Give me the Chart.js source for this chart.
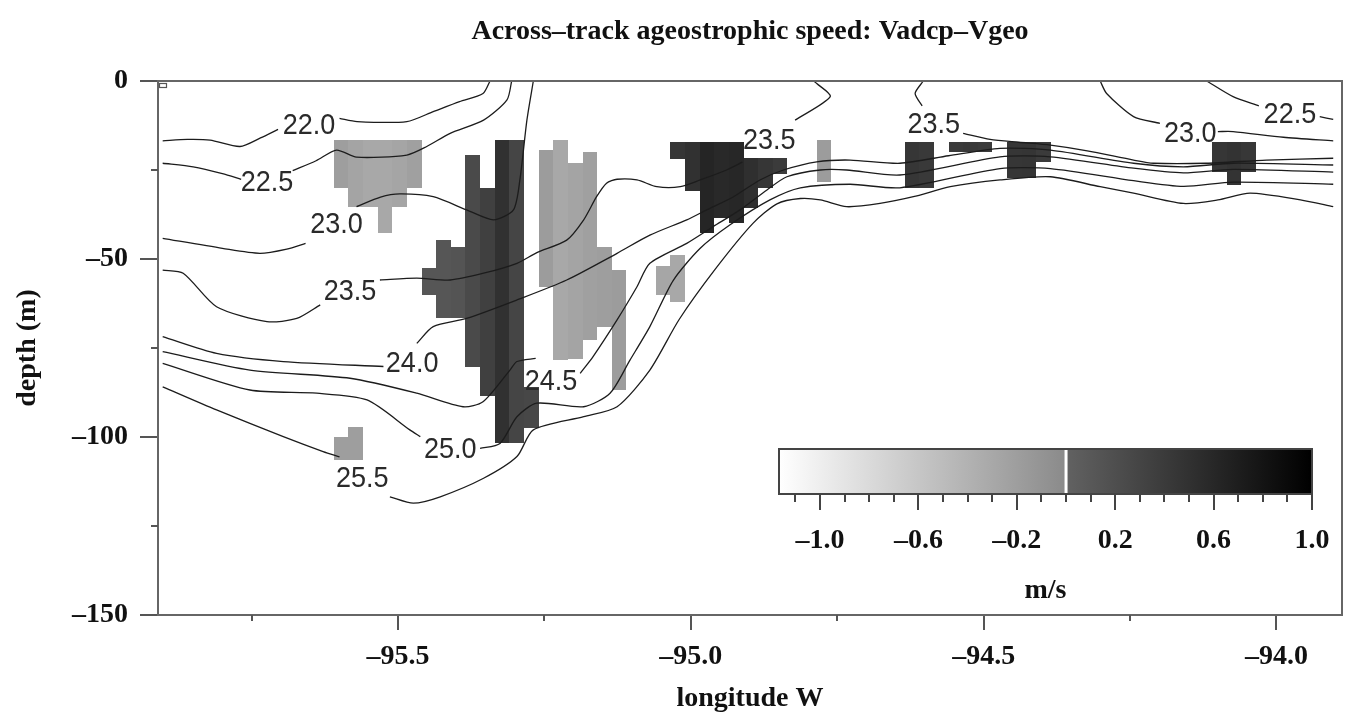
<!DOCTYPE html>
<html>
<head>
<meta charset="utf-8">
<title>Across-track ageostrophic speed</title>
<script src="https://cdn.jsdelivr.net/npm/chart.js@4.4.1/dist/chart.umd.min.js"></script>
<style>
  html, body { margin: 0; padding: 0; background: #ffffff; }
  #wrap { width: 1348px; height: 717px; }
</style>
</head>
<body>
<div id="wrap"><canvas id="chart" width="1348" height="717"></canvas></div>
<script>
// ---- axes ----
const lonMin = -95.910, lonMax = -93.888;
const depthMin = -150, depthMax = 0;
const xTickValues = [-95.5, -95.0, -94.5, -94.0];
const xMinorValues = [-95.75, -95.25, -94.75, -94.25];
const yTickValues = [0, -50, -100, -150];
const yMinorValues = [-25, -75, -125];

// ---- ageostrophic speed cells (m/s): west edge lon, top/bottom depth ----
const cellStep = 0.025;
const cellLon = [
  -95.610, -95.585, -95.560, -95.535, -95.510, -95.485,
  -95.460, -95.435, -95.410, -95.385, -95.360, -95.335, -95.310, -95.285,
  -95.260, -95.235, -95.210, -95.185, -95.160, -95.135,
  -95.060, -95.035,
  -95.035, -95.010, -94.985, -94.960, -94.935, -94.910, -94.885, -94.860,
  -94.785,
  -94.635, -94.610,
  -94.560, -94.535, -94.510,
  -94.460, -94.435, -94.410,
  -94.110, -94.085, -94.060,
  -95.610, -95.585
];
const cellTop = [
  -16.6, -16.6, -16.6, -16.6, -16.6, -16.6,
  -52.5, -44.7, -46.6, -20.8, -30.1, -16.6, -16.6, -86.0,
  -19.4, -16.6, -23.1, -20.0, -46.6, -53.0,
  -52.0, -49.0,
  -17.0, -17.0, -17.0, -17.0, -17.0, -21.6, -21.6, -21.6,
  -16.6,
  -17.0, -17.0,
  -17.0, -17.0, -17.0,
  -17.0, -17.0, -17.0,
  -17.0, -17.0, -17.0,
  -100.0, -97.2
];
const cellBottom = [
  -30.1, -35.3, -35.3, -42.8, -35.3, -30.1,
  -60.0, -66.6, -66.6, -80.2, -88.6, -101.7, -101.7, -97.5,
  -57.8, -78.4, -78.0, -72.8, -69.0, -86.8,
  -60.0, -62.0,
  -22.0, -31.0, -42.7, -38.5, -40.0, -35.7, -30.0, -26.0,
  -28.4,
  -30.1, -30.1,
  -20.0, -20.0, -20.0,
  -27.2, -27.2, -22.8,
  -25.6, -29.2, -25.6,
  -106.5, -106.5
];
const cellSpeed = [
  -0.20, -0.26, -0.30, -0.30, -0.27, -0.22,
  0.12, 0.12, 0.14, 0.24, 0.35, 0.50, 0.30, 0.28,
  -0.18, -0.30, -0.26, -0.22, -0.20, -0.18,
  -0.28, -0.30,
  0.45, 0.50, 0.62, 0.58, 0.60, 0.52, 0.45, 0.40,
  -0.18,
  0.45, 0.42,
  0.40, 0.42, 0.40,
  0.45, 0.46, 0.40,
  0.45, 0.48, 0.44,
  -0.20, -0.20
];

// ---- density (sigma-t) contours: [lon, depth], null = break ----
const contour220 = [
  [-95.902,-16.8],[-95.860,-16.4],[-95.821,-16.6],[-95.770,-18.4],[-95.735,-16.0],[-95.705,-13.6], null,
  [-95.600,-10.5],[-95.570,-11.4],[-95.485,-11.4],[-95.440,-8.6],[-95.395,-5.8],[-95.355,-3.5],[-95.343,0]
];
const contour225 = [
  [-95.902,-23.1],[-95.850,-24.1],[-95.800,-26.0],[-95.768,-27.6], null,
  [-95.680,-25.2],[-95.640,-22.4],[-95.605,-19.4],[-95.571,-21.4],[-95.485,-20.8],[-95.451,-18.4],
  [-95.411,-14.7],[-95.354,-11.0],[-95.314,-5.3],[-95.306,0], null,
  [-94.119,0],[-94.074,-4.4],[-94.030,-7.0], null,
  [-93.926,-10.0],[-93.903,-10.8]
];
const contour230 = [
  [-95.902,-44.2],[-95.800,-47.0],[-95.736,-48.4],[-95.690,-47.2],[-95.658,-45.6], null,
  [-95.571,-35.3],[-95.530,-32.6],[-95.497,-31.7],[-95.440,-32.5],[-95.383,-36.2],[-95.337,-39.0],
  [-95.303,-36.2],[-95.292,-27.8],[-95.280,-11.0],[-95.269,0], null,
  [-94.301,0],[-94.290,-3.5],[-94.244,-10.0],[-94.199,-11.9], null,
  [-94.100,-14.2],[-94.074,-14.2],[-93.988,-15.8],[-93.903,-16.8]
];
const contour235 = [
  [-95.902,-53.1],[-95.867,-54.0],[-95.810,-63.4],[-95.724,-67.6],[-95.673,-66.7],[-95.633,-62.9], null,
  [-95.531,-55.9],[-95.468,-55.4],[-95.411,-55.9],[-95.354,-54.0],[-95.297,-51.2],[-95.263,-48.2],
  [-95.212,-44.7],[-95.183,-39.0],[-95.161,-32.5],[-95.144,-28.7],[-95.126,-27.6],[-95.092,-27.8],
  [-95.058,-29.7],[-95.018,-29.7],[-94.984,-27.8],[-94.939,-25.0],[-94.912,-22.8], null,
  [-94.822,-11.0],[-94.762,-4.4],[-94.785,-0.7],[-94.790,0], null,
  [-94.603,0],[-94.617,-3.5],[-94.605,-7.0], null,
  [-94.535,-14.7],[-94.489,-16.4],[-94.440,-17.2],[-94.386,-18.0],[-94.323,-19.6],[-94.244,-22.2],
  [-94.210,-23.1],[-94.120,-23.1],[-94.017,-22.2],[-93.903,-21.7]
];
const contour240 = [
  [-95.902,-71.8],[-95.810,-76.5],[-95.696,-78.8],[-95.525,-80.2], null,
  [-95.468,-73.7],[-95.440,-69.0],[-95.383,-66.7],[-95.297,-61.5],[-95.212,-55.9],[-95.126,-48.4],
  [-95.070,-43.3],[-95.007,-39.0],[-94.973,-36.2],[-94.927,-32.5],[-94.882,-27.8],[-94.842,-25.0],
  [-94.785,-22.7],[-94.728,-22.2],[-94.643,-23.1],[-94.560,-21.0],[-94.472,-18.9],[-94.386,-19.4],
  [-94.244,-23.1],[-94.159,-24.1],[-94.074,-23.1],[-93.903,-23.6]
];
const contour245 = [
  [-95.902,-76.0],[-95.753,-81.2],[-95.582,-83.5],[-95.468,-87.7],[-95.389,-91.5],[-95.355,-90.1],
  [-95.309,-81.2],[-95.297,-78.8],[-95.265,-77.9], null,
  [-95.189,-82.1],[-95.167,-77.4],[-95.126,-67.1],[-95.092,-57.8],[-95.070,-51.2],[-95.007,-45.6],
  [-94.962,-40.9],[-94.916,-36.2],[-94.870,-30.6],[-94.836,-26.9],[-94.779,-25.0],[-94.734,-25.0],
  [-94.643,-26.4],[-94.472,-21.3],[-94.386,-21.3],[-94.244,-24.5],[-94.159,-25.8],[-94.074,-24.8],[-93.903,-25.6]
];
const contour250 = [
  [-95.902,-79.3],[-95.753,-86.8],[-95.639,-87.7],[-95.553,-89.6],[-95.480,-98.0],[-95.462,-99.9], null,
  [-95.360,-103.2],[-95.326,-101.8],[-95.297,-94.3],[-95.263,-90.5],[-95.183,-91.5],[-95.138,-87.7],
  [-95.104,-78.4],[-95.070,-69.0],[-95.030,-56.0],[-94.984,-47.0],[-94.933,-40.4],[-94.865,-33.4],
  [-94.813,-30.0],[-94.728,-29.0],[-94.643,-30.0],[-94.472,-24.6],[-94.386,-24.6],[-94.244,-28.0],
  [-94.159,-29.6],[-94.074,-28.4],[-93.903,-29.0]
];
const contour255 = [
  [-95.902,-85.9],[-95.810,-92.4],[-95.696,-99.9],[-95.628,-104.1],[-95.600,-105.6], null,
  [-95.514,-116.8],[-95.474,-118.6],[-95.428,-116.8],[-95.354,-111.6],[-95.297,-105.5],[-95.269,-98.0],
  [-95.183,-94.3],[-95.126,-91.5],[-95.070,-81.2],[-95.020,-67.0],[-94.959,-53.0],[-94.894,-40.0],
  [-94.853,-34.5],[-94.813,-33.0],[-94.779,-33.4],[-94.734,-35.3],[-94.677,-34.4],[-94.620,-32.5],
  [-94.557,-29.7],[-94.472,-27.8],[-94.386,-26.9],[-94.301,-29.7],[-94.244,-31.5],[-94.159,-34.4],
  [-94.100,-33.4],[-94.045,-31.5],[-93.959,-33.4],[-93.903,-35.3]
];
const contourSeries = [contour220, contour225, contour230, contour235, contour240, contour245, contour250, contour255];

// contour labels
const contourLabelText  = ['22.0', '22.5', '22.5', '23.0', '23.0', '23.5', '23.5', '23.5', '24.0', '24.5', '25.0', '25.5'];
const contourLabelLon   = [-95.652, -95.724, -93.977, -95.605, -94.147, -95.582, -94.866, -94.585, -95.476, -95.239, -95.411, -95.561];
const contourLabelDepth = [-12.6, -28.7, -9.6, -40.4, -14.7, -59.2, -16.8, -12.4, -79.3, -84.5, -103.7, -111.6];

// ---- colour bar ----
const barMin = -1.167, barMax = 1.0;
const barTickValues = [-1.0, -0.6, -0.2, 0.2, 0.6, 1.0];
const barMinorStep = 0.1;

// grey level for a speed value
function speedGrey(v) {
  let g;
  if (v < 0) g = 255 - (v - barMin) / (0 - barMin) * (255 - 138);
  else g = 98 * (1 - v / barMax);
  g = Math.max(0, Math.min(255, Math.round(g)));
  return 'rgb(' + g + ',' + g + ',' + g + ')';
}

const SERIF = "'Liberation Serif', 'DejaVu Serif', serif";
const SANS = "'Liberation Sans', 'DejaVu Sans', sans-serif";
const TEXT_SIZE = 28;

function fmtSigned(v, digits) {
  const s = Math.abs(v).toFixed(digits);
  return v < 0 ? '\u2013' + s : s;
}

// ---- speed cells drawn under the contours ----
const cellPlugin = {
  id: 'speedCells',
  beforeDatasetsDraw(chart) {
    const {ctx, scales: {x, y}, chartArea} = chart;
    ctx.save();
    ctx.beginPath();
    ctx.rect(chartArea.left, chartArea.top, chartArea.right - chartArea.left, chartArea.bottom - chartArea.top);
    ctx.clip();
    for (let i = 0; i < cellLon.length; i++) {
      const x0 = Math.round(x.getPixelForValue(cellLon[i]));
      const x1 = Math.round(x.getPixelForValue(cellLon[i] + cellStep));
      const y0 = Math.round(y.getPixelForValue(cellTop[i]));
      const y1 = Math.round(y.getPixelForValue(cellBottom[i]));
      ctx.fillStyle = speedGrey(cellSpeed[i]);
      ctx.fillRect(x0, y0, x1 - x0, y1 - y0);
    }
    ctx.restore();
  }
};

// ---- contour labels, frame, minor ticks, colour bar, title ----
const decorPlugin = {
  id: 'decor',
  afterDatasetsDraw(chart) {
    const {ctx, scales: {x, y}} = chart;
    ctx.save();
    ctx.fillStyle = '#2a2a2a';
    ctx.font = '30px ' + SANS;
    ctx.textAlign = 'center';
    ctx.textBaseline = 'middle';
    for (let i = 0; i < contourLabelText.length; i++) {
      const px = x.getPixelForValue(contourLabelLon[i]);
      const py = y.getPixelForValue(contourLabelDepth[i]);
      ctx.save();
      ctx.translate(px, py);
      ctx.scale(0.9, 1);
      ctx.fillText(contourLabelText[i], 0, 0);
      ctx.restore();
    }
    ctx.restore();
  },
  afterDraw(chart) {
    const {ctx, scales: {x, y}, chartArea: a} = chart;
    ctx.save();
    // top and right frame
    ctx.strokeStyle = '#666';
    ctx.lineWidth = 2;
    ctx.beginPath();
    ctx.moveTo(a.left, a.top); ctx.lineTo(a.right, a.top); ctx.lineTo(a.right, a.bottom);
    ctx.stroke();
    // minor ticks
    ctx.strokeStyle = '#555';
    ctx.lineWidth = 2;
    ctx.beginPath();
    yMinorValues.forEach(v => { const py = Math.round(y.getPixelForValue(v)); ctx.moveTo(a.left - 7, py); ctx.lineTo(a.left, py); });
    xMinorValues.forEach(v => { const px = Math.round(x.getPixelForValue(v)); ctx.moveTo(px, a.bottom); ctx.lineTo(px, a.bottom + 6); });
    ctx.stroke();
    // small marker at the upper-left corner
    ctx.strokeStyle = '#555';
    ctx.lineWidth = 1.2;
    ctx.strokeRect(a.left + 1.5, a.top + 2.5, 7, 4);

    // title
    ctx.fillStyle = '#111';
    ctx.font = 'bold ' + TEXT_SIZE + 'px ' + SERIF;
    ctx.textAlign = 'center';
    ctx.textBaseline = 'middle';
    ctx.fillText('Across\u2013track ageostrophic speed: Vadcp\u2013Vgeo', (a.left + a.right) / 2, 32);

    // colour bar
    const bx0 = 779, bx1 = 1312, by0 = 449, by1 = 494;
    const toX = v => bx0 + (v - barMin) / (barMax - barMin) * (bx1 - bx0);
    const zx = toX(0);
    const gNeg = ctx.createLinearGradient(bx0, 0, zx, 0);
    gNeg.addColorStop(0, speedGrey(barMin)); gNeg.addColorStop(1, speedGrey(-0.0001));
    ctx.fillStyle = gNeg; ctx.fillRect(bx0, by0, zx - bx0, by1 - by0);
    const gPos = ctx.createLinearGradient(zx, 0, bx1, 0);
    gPos.addColorStop(0, speedGrey(0)); gPos.addColorStop(1, speedGrey(barMax));
    ctx.fillStyle = gPos; ctx.fillRect(zx, by0, bx1 - zx, by1 - by0);
    ctx.fillStyle = '#ffffff';
    ctx.fillRect(zx - 1.5, by0 + 1, 3, by1 - by0 - 2);
    ctx.strokeStyle = '#444';
    ctx.lineWidth = 2;
    ctx.strokeRect(bx0, by0, bx1 - bx0, by1 - by0);
    // colour bar ticks
    ctx.beginPath();
    for (let v = -1.1; v <= barMax + 1e-6; v += barMinorStep) {
      const px = Math.round(toX(v));
      const major = barTickValues.some(t => Math.abs(t - v) < 1e-6);
      ctx.moveTo(px, by1); ctx.lineTo(px, by1 + (major ? 16 : 8));
    }
    ctx.stroke();
    ctx.fillStyle = '#111';
    ctx.font = 'bold ' + TEXT_SIZE + 'px ' + SERIF;
    ctx.textBaseline = 'middle';
    barTickValues.forEach(v => ctx.fillText(fmtSigned(v, 1), toX(v), 541));
    ctx.fillText('m/s', (bx0 + bx1) / 2, 591);
    ctx.restore();
  }
};

const datasets = contourSeries.map(series => ({
  data: series.map(p => p ? {x: p[0], y: p[1]} : {x: null, y: null}),
  showLine: true,
  spanGaps: false,
  borderColor: '#1c1c1c',
  borderWidth: 1.3,
  pointRadius: 0,
  tension: 0.25,
  fill: false
}));

new Chart(document.getElementById('chart').getContext('2d'), {
  type: 'scatter',
  data: { datasets },
  options: {
    responsive: false,
    animation: false,
    devicePixelRatio: 1,
    layout: { padding: { top: 81, right: 6, bottom: 0, left: 0 } },
    plugins: { legend: { display: false }, tooltip: { enabled: false }, title: { display: false } },
    scales: {
      x: {
        type: 'linear', min: lonMin, max: lonMax,
        afterBuildTicks: s => { s.ticks = xTickValues.map(v => ({ value: v })); },
        afterFit: s => { s.height = 102; },
        grid: { display: true, drawOnChartArea: false, drawTicks: true, tickLength: 15, color: '#555', lineWidth: 2 },
        border: { display: true, color: '#666', width: 2 },
        ticks: { padding: 10, color: '#111', font: { family: SERIF, size: TEXT_SIZE, weight: 'bold' }, maxRotation: 0,
                 callback: v => fmtSigned(v, 1) },
        title: { display: true, text: 'longitude W', color: '#111', padding: { top: 0, bottom: 1 },
                 font: { family: SERIF, size: TEXT_SIZE, weight: 'bold' } }
      },
      y: {
        type: 'linear', min: depthMin, max: depthMax,
        afterBuildTicks: s => { s.ticks = yTickValues.map(v => ({ value: v })); },
        afterFit: s => { s.width = 158; },
        grid: { display: true, drawOnChartArea: false, drawTicks: true, tickLength: 18, color: '#555', lineWidth: 2 },
        border: { display: true, color: '#666', width: 2 },
        ticks: { padding: 12, color: '#111', font: { family: SERIF, size: TEXT_SIZE, weight: 'bold' },
                 callback: v => fmtSigned(v, 0) },
        title: { display: true, text: 'depth (m)', color: '#111', padding: { top: 11, bottom: 0 },
                 font: { family: SERIF, size: TEXT_SIZE, weight: 'bold' } }
      }
    }
  },
  plugins: [cellPlugin, decorPlugin]
});
</script>
</body>
</html>
